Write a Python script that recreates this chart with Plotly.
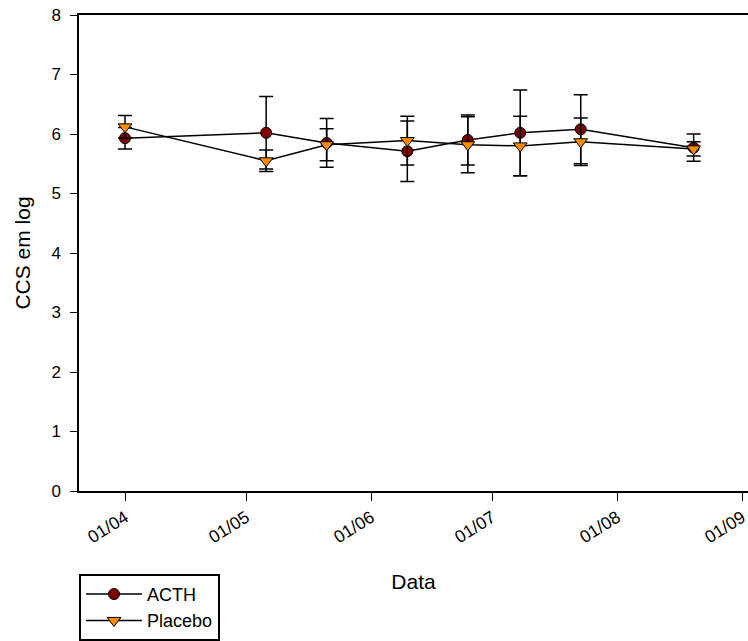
import plotly.graph_objects as go

dates = ["2007-04-01", "2007-05-06", "2007-05-21", "2007-06-10",
         "2007-06-25", "2007-07-08", "2007-07-23", "2007-08-20"]
acth = [5.93, 6.02, 5.85, 5.71, 5.90, 6.02, 6.08, 5.77]
acth_err = [0.18, 0.61, 0.41, 0.51, 0.42, 0.72, 0.58, 0.23]
placebo = [6.12, 5.55, 5.82, 5.89, 5.82, 5.80, 5.87, 5.75]
placebo_err = [0.19, 0.18, 0.27, 0.41, 0.47, 0.50, 0.40, 0.12]

FONT = "Liberation Sans, Arial, sans-serif"

fig = go.Figure()
fig.add_trace(go.Scatter(
    x=dates, y=acth, name="ACTH", mode="lines+markers",
    line=dict(color="black", width=1.5),
    marker=dict(symbol="circle", size=11, color="#800000",
                line=dict(color="black", width=1)),
    error_y=dict(type="data", array=acth_err, visible=True,
                 color="black", thickness=1.5, width=7),
))
fig.add_trace(go.Scatter(
    x=dates, y=placebo, name="Placebo", mode="lines+markers",
    line=dict(color="black", width=1.5),
    marker=dict(symbol="triangle-down", size=12, color="#FF8C00",
                line=dict(color="black", width=1)),
    error_y=dict(type="data", array=placebo_err, visible=True,
                 color="black", thickness=1.5, width=7),
))

fig.update_layout(
    width=748, height=641,
    margin=dict(l=79, r=0, t=15, b=150),
    paper_bgcolor="white", plot_bgcolor="white",
    font=dict(family=FONT, size=17, color="black"),
    showlegend=True,
    legend=dict(x=0.0, y=-0.174, xanchor="left", yanchor="top",
                bordercolor="black", borderwidth=2, itemwidth=56,
                font=dict(family=FONT, size=18, color="black"),
                bgcolor="white"),
    xaxis=dict(
        type="date",
        range=["2007-03-20 14:10", "2007-09-02 11:30"],
        tick0="2007-04-01", dtick="M1", tickformat="%d/%m",
        tickangle=-32, ticks="outside", ticklen=8, tickwidth=1,
        tickcolor="black", showline=True, linecolor="black", linewidth=1.5,
        mirror=True, showgrid=False, zeroline=False,
        ticklabeloverflow="allow", automargin=False,
        tickfont=dict(size=17.5),
        title=dict(text="Data", font=dict(size=21), standoff=28),
    ),
    yaxis=dict(
        range=[0, 8], dtick=1, ticks="outside", ticklen=7, tickwidth=1,
        tickcolor="black", showline=True, linecolor="black", linewidth=1.5,
        showgrid=False, zeroline=False, ticklabelstandoff=6,
        automargin=False,
        tickfont=dict(size=17),
        title=dict(text="CCS em log", font=dict(size=21), standoff=15),
    ),
)

fig.write_html("out.html")
